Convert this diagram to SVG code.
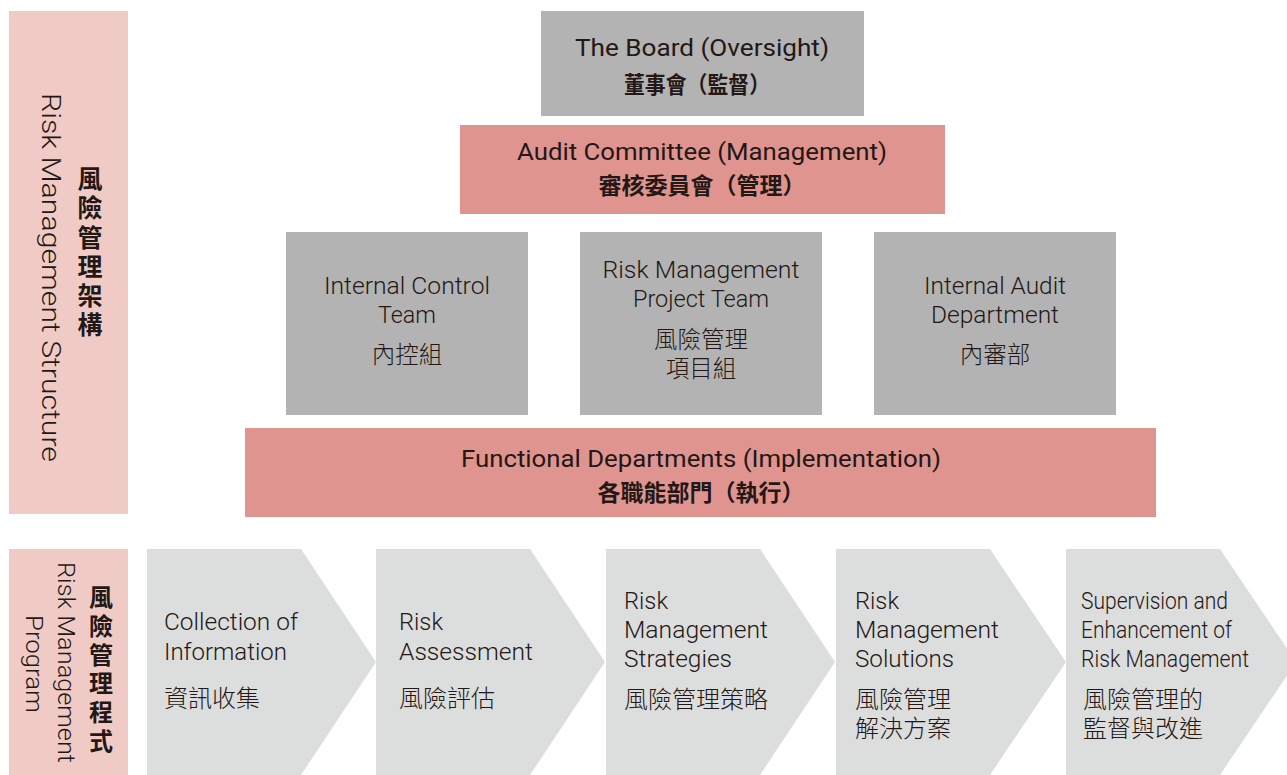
<svg xmlns="http://www.w3.org/2000/svg" width="1287" height="775" viewBox="0 0 1287 775">
<style>
.pink{fill:#f0cbc6}
.red{fill:#e0948f}
.gray{fill:#b3b3b3}
.chev{fill:#dcdddd}
text{fill:#231815;font-family:"Roboto","Liberation Sans","Noto Sans CJK TC",sans-serif}
.en{font-size:24px;font-weight:300}
.enb{font-size:24px;font-weight:400}
.zh{font-size:23.5px;font-family:"Noto Sans CJK TC",sans-serif;font-weight:300}
.zhb{font-size:23px;font-family:"Noto Sans CJK TC",sans-serif;font-weight:700}
.c{text-anchor:middle}
.ce{font-size:24px;font-weight:300}
.cz{font-size:24px;font-family:"Noto Sans CJK TC",sans-serif;font-weight:300}
.side{font-size:26px;font-weight:300}
.side2{font-size:24px;font-weight:300}
.vz{font-family:"Noto Sans CJK TC",sans-serif;font-weight:700;writing-mode:vertical-rl;text-anchor:start}
</style>
<rect width="1287" height="775" fill="#ffffff"/>
<g id="structure-label">
<rect class="pink" x="9" y="11" width="119" height="503"/>
<text class="side" transform="translate(42,93) rotate(90)" textLength="369" lengthAdjust="spacingAndGlyphs">Risk Management Structure</text>
<text class="vz" x="90" y="166" font-size="25" letter-spacing="4.3">風險管理架構</text>
</g>
<g id="program-label">
<rect class="pink" x="9" y="549" width="119" height="226"/>
<text class="side2" transform="translate(58,562) rotate(90)" textLength="201" lengthAdjust="spacingAndGlyphs">Risk Management</text>
<text class="side2" transform="translate(26,615) rotate(90)" textLength="98" lengthAdjust="spacingAndGlyphs">Program</text>
<text class="vz" x="101" y="585" font-size="24" letter-spacing="4.7">風險管理程式</text>
</g>
<g id="board">
<rect class="gray" x="541" y="11" width="323" height="105"/>
<text class="enb c" x="702" y="56" textLength="254" lengthAdjust="spacingAndGlyphs">The Board (Oversight)</text>
<text class="zhb c" x="697" y="93" textLength="146" lengthAdjust="spacingAndGlyphs">董事會（監督）</text>
</g>
<g id="audit-committee">
<rect class="red" x="460" y="125" width="485" height="89"/>
<text class="enb c" x="702" y="160" textLength="370" lengthAdjust="spacingAndGlyphs">Audit Committee (Management)</text>
<text class="zhb c" x="702" y="194">審核委員會（管理）</text>
</g>
<g id="internal-control">
<rect class="gray" x="286" y="232" width="242" height="183"/>
<text class="en c" x="407" y="294" textLength="166" lengthAdjust="spacingAndGlyphs">Internal Control</text>
<text class="en c" x="407" y="323" textLength="58" lengthAdjust="spacingAndGlyphs">Team</text>
<text class="zh c" x="407" y="363">內控組</text>
</g>
<g id="risk-project-team">
<rect class="gray" x="580" y="232" width="242" height="183"/>
<text class="en c" x="701" y="278" textLength="197" lengthAdjust="spacingAndGlyphs">Risk Management</text>
<text class="en c" x="701" y="307" textLength="136" lengthAdjust="spacingAndGlyphs">Project Team</text>
<text class="zh c"><tspan x="701" y="348">風險管理</tspan><tspan x="701" y="377">項目組</tspan></text>
</g>
<g id="internal-audit">
<rect class="gray" x="874" y="232" width="242" height="183"/>
<text class="en c" x="995" y="294" textLength="142" lengthAdjust="spacingAndGlyphs">Internal Audit</text>
<text class="en c" x="995" y="323" textLength="128" lengthAdjust="spacingAndGlyphs">Department</text>
<text class="zh c" x="995" y="363">內審部</text>
</g>
<g id="functional-departments">
<rect class="red" x="245" y="428" width="911" height="89"/>
<text class="enb c" x="701" y="467" textLength="480" lengthAdjust="spacingAndGlyphs">Functional Departments (Implementation)</text>
<text class="zhb c" x="701" y="501">各職能部門（執行）</text>
</g>
<g id="step1">
<polygon class="chev" points="147,549 301,549 376,662 301,775 147,775"/>
<text class="ce" x="164" y="630" textLength="134" lengthAdjust="spacingAndGlyphs">Collection of</text>
<text class="ce" x="164" y="660" textLength="123" lengthAdjust="spacingAndGlyphs">Information</text>
<text class="cz" x="164" y="707">資訊收集</text>
</g>
<g id="step2">
<polygon class="chev" points="376,549 530,549 605,662 530,775 376,775"/>
<text class="ce" x="399" y="630" textLength="44" lengthAdjust="spacingAndGlyphs">Risk</text>
<text class="ce" x="399" y="660" textLength="134" lengthAdjust="spacingAndGlyphs">Assessment</text>
<text class="cz" x="399" y="707">風險評估</text>
</g>
<g id="step3">
<polygon class="chev" points="606,549 760,549 835,662 760,775 606,775"/>
<text class="ce" x="624" y="609" textLength="44" lengthAdjust="spacingAndGlyphs">Risk</text>
<text class="ce" x="624" y="638" textLength="144" lengthAdjust="spacingAndGlyphs">Management</text>
<text class="ce" x="624" y="667" textLength="108" lengthAdjust="spacingAndGlyphs">Strategies</text>
<text class="cz" x="624" y="708">風險管理策略</text>
</g>
<g id="step4">
<polygon class="chev" points="836,549 990,549 1066,662 990,775 836,775"/>
<text class="ce" x="855" y="609" textLength="44" lengthAdjust="spacingAndGlyphs">Risk</text>
<text class="ce" x="855" y="638" textLength="144" lengthAdjust="spacingAndGlyphs">Management</text>
<text class="ce" x="855" y="667" textLength="99" lengthAdjust="spacingAndGlyphs">Solutions</text>
<text class="cz"><tspan x="855" y="708">風險管理</tspan><tspan x="855" y="737">解決方案</tspan></text>
</g>
<g id="step5">
<polygon class="chev" points="1066,549 1220,549 1296,662 1220,775 1066,775"/>
<text class="ce" x="1081" y="609" textLength="147" lengthAdjust="spacingAndGlyphs">Supervision and</text>
<text class="ce" x="1081" y="638" textLength="151" lengthAdjust="spacingAndGlyphs">Enhancement of</text>
<text class="ce" x="1081" y="667" textLength="168" lengthAdjust="spacingAndGlyphs">Risk Management</text>
<text class="cz"><tspan x="1083" y="708">風險管理的</tspan><tspan x="1083" y="737">監督與改進</tspan></text>
</g>
<g id="connectors"></g>
</svg>
